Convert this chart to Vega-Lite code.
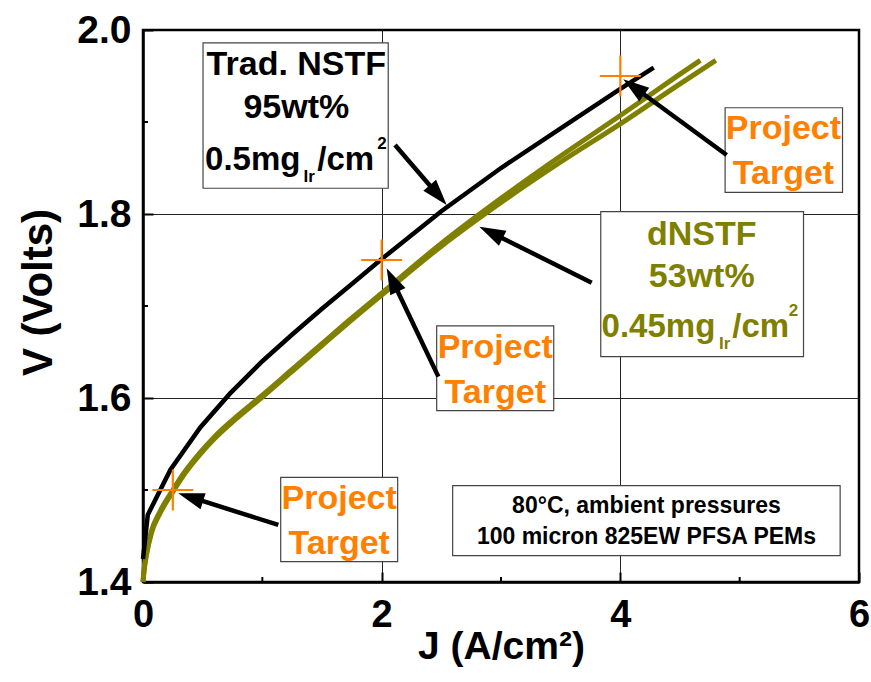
{
  "$schema": "https://vega.github.io/schema/vega-lite/v6.json",
  "width": 716,
  "height": 552,
  "autosize": {"type": "none"},
  "padding": {"left": 143, "top": 30, "right": 12, "bottom": 100},
  "background": "white",
  "config": {
    "view": {"stroke": "#000", "strokeWidth": 2.5},
    "font": "Liberation Sans"
  },
  "datasets": {
    "curves": [
      {"group": "trad", "J": 0, "V": 1.425},
      {"group": "trad", "J": 0.04, "V": 1.473},
      {"group": "trad", "J": 0.23, "V": 1.522},
      {"group": "trad", "J": 0.48, "V": 1.568},
      {"group": "trad", "J": 0.73, "V": 1.605},
      {"group": "trad", "J": 1.0, "V": 1.64},
      {"group": "trad", "J": 1.25, "V": 1.669},
      {"group": "trad", "J": 1.5, "V": 1.697},
      {"group": "trad", "J": 1.75, "V": 1.724},
      {"group": "trad", "J": 2.0, "V": 1.751},
      {"group": "trad", "J": 2.5, "V": 1.803},
      {"group": "trad", "J": 3.0, "V": 1.85},
      {"group": "trad", "J": 3.5, "V": 1.893},
      {"group": "trad", "J": 4.0, "V": 1.936},
      {"group": "trad", "J": 4.28, "V": 1.959},
      {"group": "dnstf", "J": 0, "V": 1.4},
      {"group": "dnstf", "J": 0.01, "V": 1.415},
      {"group": "dnstf", "J": 0.03, "V": 1.432},
      {"group": "dnstf", "J": 0.07, "V": 1.455},
      {"group": "dnstf", "J": 0.14, "V": 1.476},
      {"group": "dnstf", "J": 0.25, "V": 1.5},
      {"group": "dnstf", "J": 0.34, "V": 1.518},
      {"group": "dnstf", "J": 0.48, "V": 1.541},
      {"group": "dnstf", "J": 0.6, "V": 1.558},
      {"group": "dnstf", "J": 0.75, "V": 1.576},
      {"group": "dnstf", "J": 1.0, "V": 1.603},
      {"group": "dnstf", "J": 1.25, "V": 1.631},
      {"group": "dnstf", "J": 1.5, "V": 1.659},
      {"group": "dnstf", "J": 1.75, "V": 1.687},
      {"group": "dnstf", "J": 2.0, "V": 1.714},
      {"group": "dnstf", "J": 2.5, "V": 1.768},
      {"group": "dnstf", "J": 3.0, "V": 1.817},
      {"group": "dnstf", "J": 3.5, "V": 1.863},
      {"group": "dnstf", "J": 4.0, "V": 1.907},
      {"group": "dnstf", "J": 4.5, "V": 1.952},
      {"group": "dnstf", "J": 4.67, "V": 1.967},
      {"group": "dnstf-b", "J": 0, "V": 1.4},
      {"group": "dnstf-b", "J": 0.01, "V": 1.413},
      {"group": "dnstf-b", "J": 0.03, "V": 1.43},
      {"group": "dnstf-b", "J": 0.07, "V": 1.453},
      {"group": "dnstf-b", "J": 0.14, "V": 1.474},
      {"group": "dnstf-b", "J": 0.25, "V": 1.498},
      {"group": "dnstf-b", "J": 0.34, "V": 1.516},
      {"group": "dnstf-b", "J": 0.48, "V": 1.539},
      {"group": "dnstf-b", "J": 0.6, "V": 1.556},
      {"group": "dnstf-b", "J": 0.75, "V": 1.574},
      {"group": "dnstf-b", "J": 1.0, "V": 1.601},
      {"group": "dnstf-b", "J": 1.25, "V": 1.629},
      {"group": "dnstf-b", "J": 1.5, "V": 1.657},
      {"group": "dnstf-b", "J": 1.75, "V": 1.685},
      {"group": "dnstf-b", "J": 2.0, "V": 1.712},
      {"group": "dnstf-b", "J": 2.5, "V": 1.765},
      {"group": "dnstf-b", "J": 3.0, "V": 1.8125},
      {"group": "dnstf-b", "J": 3.5, "V": 1.8565},
      {"group": "dnstf-b", "J": 4.0, "V": 1.898},
      {"group": "dnstf-b", "J": 4.5, "V": 1.9415},
      {"group": "dnstf-b", "J": 4.8, "V": 1.967}
    ],
    "targets": [
      {"J": 0.25, "V": 1.5},
      {"J": 2.0, "V": 1.75},
      {"J": 4.0, "V": 1.95}
    ],
    "minorTicks": [
      {"side": "bottom", "J": 1, "V": 1.4},
      {"side": "bottom", "J": 3, "V": 1.4},
      {"side": "bottom", "J": 5, "V": 1.4},
      {"side": "left", "J": 0, "V": 1.5},
      {"side": "left", "J": 0, "V": 1.7},
      {"side": "left", "J": 0, "V": 1.9}
    ],
    "arrows": [
      {"Jt": 2.112, "Vt": 1.875, "J": 2.501, "V": 1.8164},
      {"Jt": 3.76, "Vt": 1.7253, "J": 2.879, "V": 1.7823},
      {"Jt": 4.891, "Vt": 1.8641, "J": 4.079, "V": 1.9413},
      {"Jt": 2.475, "Vt": 1.6232, "J": 2.071, "V": 1.7332},
      {"Jt": 1.134, "Vt": 1.462, "J": 0.3595, "V": 1.4938}
    ],
    "boxes": [
      {"J": 0.503, "J2": 2.055, "V": 1.828, "V2": 1.986},
      {"J": 3.836, "J2": 5.535, "V": 1.645, "V2": 1.8025},
      {"J": 4.878, "J2": 5.862, "V": 1.8236, "V2": 1.9155},
      {"J": 2.461, "J2": 3.442, "V": 1.5862, "V2": 1.6783},
      {"J": 1.154, "J2": 2.134, "V": 1.4221, "V2": 1.5138},
      {"J": 2.595, "J2": 5.842, "V": 1.4286, "V2": 1.5047}
    ],
    "labels": [
      {"group": "trad", "role": "center", "text": "Trad. NSTF", "J": 1.285, "V": 1.951},
      {"group": "trad", "role": "center", "text": "95wt%", "J": 1.285, "V": 1.904},
      {"group": "trad", "role": "left", "text": "0.5mg", "J": 0.52, "V": 1.848},
      {"group": "trad", "role": "small", "text": "Ir", "J": 1.345, "V": 1.835},
      {"group": "trad", "role": "left", "text": "/cm", "J": 1.46, "V": 1.848},
      {"group": "trad", "role": "small", "text": "2", "J": 1.962, "V": 1.871},
      {"group": "dnstf", "role": "center", "text": "dNSTF", "J": 4.682, "V": 1.766},
      {"group": "dnstf", "role": "center", "text": "53wt%", "J": 4.682, "V": 1.7203},
      {"group": "dnstf", "role": "left", "text": "0.45mg", "J": 3.843, "V": 1.6667},
      {"group": "dnstf", "role": "small", "text": "Ir", "J": 4.826, "V": 1.653},
      {"group": "dnstf", "role": "left", "text": "/cm", "J": 4.938, "V": 1.6667},
      {"group": "dnstf", "role": "small", "text": "2", "J": 5.412, "V": 1.6895},
      {"group": "target", "role": "center", "text": "Project", "J": 5.367, "V": 1.8813},
      {"group": "target", "role": "center", "text": "Target", "J": 5.367, "V": 1.8324},
      {"group": "target", "role": "center", "text": "Project", "J": 2.952, "V": 1.644},
      {"group": "target", "role": "center", "text": "Target", "J": 2.952, "V": 1.5951},
      {"group": "target", "role": "center", "text": "Project", "J": 1.644, "V": 1.4796},
      {"group": "target", "role": "center", "text": "Target", "J": 1.644, "V": 1.4307},
      {"group": "note", "role": "note", "text": "80°C, ambient pressures", "J": 4.219, "V": 1.4747},
      {"group": "note", "role": "note", "text": "100 micron 825EW PFSA PEMs", "J": 4.219, "V": 1.4413}
    ]
  },
  "encoding": {
    "x": {
      "field": "J",
      "type": "quantitative",
      "scale": {"domain": [0, 6], "nice": false, "zero": false},
      "axis": {
        "values": [0, 2, 4, 6],
        "format": "d",
        "title": "J (A/cm²)",
        "titleFont": "Liberation Sans",
        "titleFontSize": 39,
        "titleFontWeight": "bold",
        "titleColor": "#000",
        "titleX": 358,
        "titleY": 76,
        "titleAlign": "center",
        "titleBaseline": "alphabetic",
        "labelFont": "Liberation Sans",
        "labelFontSize": 38,
        "labelFontWeight": "bold",
        "labelColor": "#000",
        "labelPadding": 24,
        "labelFlush": false,
        "labelOverlap": false,
        "domainColor": "#000",
        "domainWidth": 2.5,
        "tickColor": "#000",
        "tickWidth": 2,
        "tickSize": -10,
        "grid": true,
        "gridColor": "#222",
        "gridWidth": 1,
        "gridOpacity": {"condition": {"test": "datum.value === 2 || datum.value === 4", "value": 1}, "value": 0}
      }
    },
    "y": {
      "field": "V",
      "type": "quantitative",
      "scale": {"domain": [1.4, 2.0], "nice": false, "zero": false},
      "axis": {
        "values": [1.4, 1.6, 1.8, 2.0],
        "format": ".1f",
        "title": "V (Volts)",
        "titleFont": "Liberation Sans",
        "titleFontSize": 42,
        "titleFontWeight": "bold",
        "titleColor": "#000",
        "titleX": -92,
        "titleY": 262,
        "titleAlign": "center",
        "titleBaseline": "alphabetic",
        "titleAngle": 270,
        "labelFont": "Liberation Sans",
        "labelFontSize": 39,
        "labelFontWeight": "bold",
        "labelColor": "#000",
        "labelPadding": 22,
        "labelFlush": false,
        "labelOverlap": false,
        "domainColor": "#000",
        "domainWidth": 2.5,
        "tickColor": "#000",
        "tickWidth": 2,
        "tickSize": -10,
        "grid": true,
        "gridColor": "#222",
        "gridWidth": 1,
        "gridOpacity": {"condition": {"test": "abs(datum.value - 1.6) < 0.01 || abs(datum.value - 1.8) < 0.01", "value": 1}, "value": 0}
      }
    }
  },
  "layer": [
    {
      "data": {"name": "boxes"},
      "mark": {"type": "rect", "fill": "white", "stroke": "#444", "strokeWidth": 1.2},
      "encoding": {"x2": {"field": "J2"}, "y2": {"field": "V2"}}
    },
    {
      "data": {"name": "minorTicks"},
      "transform": [{"filter": "datum.side === 'bottom'"}],
      "mark": {"type": "point", "shape": "M0,0L0,-1", "filled": false, "color": "#000", "strokeWidth": 2, "size": 100, "opacity": 1}
    },
    {
      "data": {"name": "minorTicks"},
      "transform": [{"filter": "datum.side === 'left'"}],
      "mark": {"type": "point", "shape": "M0,0L1,0", "filled": false, "color": "#000", "strokeWidth": 2, "size": 100, "opacity": 1}
    },
    {
      "data": {"name": "curves"},
      "transform": [{"filter": "datum.group !== 'trad'"}],
      "mark": {"type": "line", "strokeWidth": 5, "interpolate": "monotone"},
      "encoding": {
        "color": {
          "field": "group",
          "type": "nominal",
          "scale": {"domain": ["trad", "dnstf", "dnstf-b", "target", "note"], "range": ["#000000", "#808000", "#808000", "#ff8000", "#000000"]},
          "legend": null
        }
      }
    },
    {
      "data": {"name": "curves"},
      "transform": [{"filter": "datum.group === 'trad'"}],
      "mark": {"type": "line", "strokeWidth": 4.5},
      "encoding": {"color": {"field": "group", "type": "nominal", "legend": null}}
    },
    {
      "data": {"name": "targets"},
      "mark": {"type": "point", "shape": "M-1,0L1,0M0,-1L0,1", "filled": false, "color": "#ff8000", "strokeWidth": 2.2, "size": 1681, "opacity": 1}
    },
    {
      "data": {"name": "arrows"},
      "mark": {"type": "rule", "color": "#000", "strokeWidth": 4.5},
      "encoding": {"x2": {"field": "Jt"}, "y2": {"field": "Vt"}}
    },
    {
      "data": {"name": "arrows"},
      "transform": [
        {"calculate": "atan2((datum.J - datum.Jt) * 119.33, (datum.V - datum.Vt) * 920) * 180 / PI", "as": "ang"}
      ],
      "mark": {"type": "point", "shape": "M0,-0.67L0.7,1.5L-0.7,1.5Z", "filled": true, "color": "#000", "size": 576, "opacity": 1},
      "encoding": {"angle": {"field": "ang", "type": "quantitative", "scale": null}}
    },
    {
      "data": {"name": "labels"},
      "transform": [{"filter": "datum.role === 'center'"}],
      "mark": {"type": "text", "font": "Liberation Sans", "fontWeight": "bold", "fontSize": 34, "align": "center", "baseline": "alphabetic"},
      "encoding": {"text": {"field": "text"}, "color": {"field": "group", "type": "nominal", "legend": null}}
    },
    {
      "data": {"name": "labels"},
      "transform": [{"filter": "datum.role === 'left'"}],
      "mark": {"type": "text", "font": "Liberation Sans", "fontWeight": "bold", "fontSize": 33, "align": "left", "baseline": "alphabetic"},
      "encoding": {"text": {"field": "text"}, "color": {"field": "group", "type": "nominal", "legend": null}}
    },
    {
      "data": {"name": "labels"},
      "transform": [{"filter": "datum.role === 'small'"}],
      "mark": {"type": "text", "font": "Liberation Sans", "fontWeight": "bold", "fontSize": 17, "align": "left", "baseline": "alphabetic"},
      "encoding": {"text": {"field": "text"}, "color": {"field": "group", "type": "nominal", "legend": null}}
    },
    {
      "data": {"name": "labels"},
      "transform": [{"filter": "datum.role === 'note'"}],
      "mark": {"type": "text", "font": "Liberation Sans", "fontWeight": "bold", "fontSize": 23, "align": "center", "baseline": "alphabetic"},
      "encoding": {"text": {"field": "text"}, "color": {"field": "group", "type": "nominal", "legend": null}}
    }
  ]
}
